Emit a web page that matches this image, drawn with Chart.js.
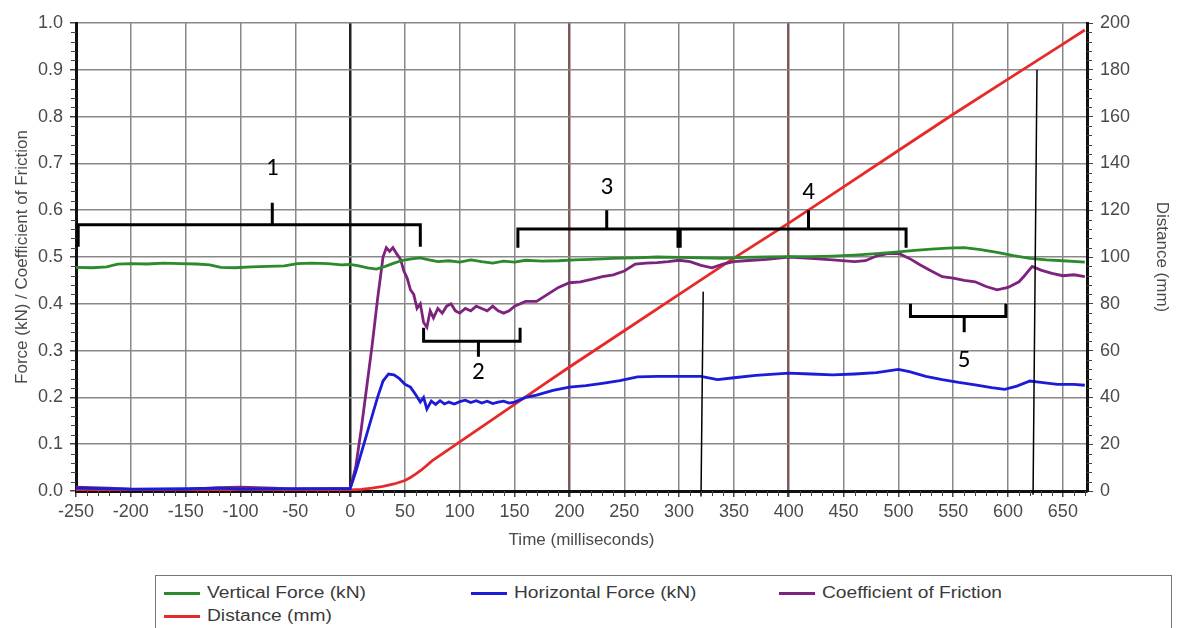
<!DOCTYPE html>
<html>
<head>
<meta charset="utf-8">
<script src="https://cdn.jsdelivr.net/npm/chart.js@4.4.0/dist/chart.umd.min.js"></script>
<style>
    body { margin: 0; background: #fff; width: 1178px; height: 628px; overflow: hidden; position: relative; font-family: "Liberation Sans", Arial, sans-serif; }
    #chart { position: absolute; left: 0; top: 0; }
    .legend { position: absolute; left: 155px; top: 575px; width: 1017px; height: 70px; border: 1px solid #777; box-sizing: border-box; }
    .item { position: absolute; font-size: 16px; color: #3a3a3a; white-space: nowrap; line-height: 18px; }
    .item i { position: absolute; left: 0; top: 8px; width: 36px; height: 3px; }
    .item span { position: absolute; left: 43px; top: 0; transform: scaleX(1.2); transform-origin: 0 0; }
</style>
</head>
<body>
<canvas id="chart" width="1178" height="560"></canvas>
<div class="legend">
    <div class="item" style="left:8px;top:8px"><i style="background:#2b8a2b"></i><span>Vertical Force (kN)</span></div>
    <div class="item" style="left:315px;top:8px"><i style="background:#1c1cd8"></i><span>Horizontal Force (kN)</span></div>
    <div class="item" style="left:623px;top:8px"><i style="background:#7d237d"></i><span>Coefficient of Friction</span></div>
    <div class="item" style="left:8px;top:31px"><i style="background:#e62a2a"></i><span>Distance (mm)</span></div>
</div>
<script>
// Vertical force (kN)
const vfTime = [-250,-235,-222,-212,-200,-185,-170,-155,-140,-128,-118,-105,-90,-75,-60,-48,-35,-20,-8,0,8,16,24,32,40,48,56,64,72,80,90,100,110,120,130,140,150,160,175,190,205,220,240,260,280,300,320,340,360,380,400,420,440,460,480,500,515,530,545,560,575,590,605,620,635,650,670];
const vfValues = [0.478,0.477,0.479,0.485,0.486,0.485,0.487,0.486,0.485,0.483,0.478,0.477,0.479,0.480,0.481,0.486,0.487,0.486,0.483,0.484,0.481,0.477,0.474,0.480,0.487,0.493,0.496,0.498,0.494,0.490,0.492,0.489,0.494,0.490,0.487,0.491,0.489,0.493,0.491,0.492,0.494,0.495,0.497,0.498,0.500,0.499,0.498,0.497,0.499,0.500,0.501,0.501,0.502,0.504,0.507,0.511,0.514,0.517,0.519,0.520,0.516,0.510,0.503,0.497,0.494,0.492,0.489];

// Horizontal force (kN)
const hfTime = [-250,-200,-150,-120,-100,-50,0,5,10,15,20,25,30,35,40,45,50,55,60,64,67,70,74,78,82,86,90,95,100,105,110,115,120,125,130,135,140,145,150,160,170,185,200,215,230,246,262,280,300,320,335,350,370,400,420,440,460,480,500,510,525,540,555,570,585,597,608,620,630,645,660,670];
const hfValues = [0.006,0.004,0.005,0.006,0.004,0.005,0.005,0.04,0.08,0.12,0.16,0.20,0.235,0.250,0.248,0.240,0.228,0.222,0.205,0.190,0.200,0.175,0.192,0.185,0.193,0.186,0.190,0.186,0.191,0.194,0.189,0.193,0.188,0.192,0.187,0.190,0.192,0.188,0.190,0.200,0.205,0.215,0.222,0.225,0.230,0.236,0.244,0.245,0.245,0.245,0.238,0.242,0.247,0.252,0.250,0.248,0.250,0.253,0.260,0.255,0.245,0.238,0.232,0.227,0.221,0.217,0.224,0.235,0.232,0.228,0.228,0.226];

// Coefficient of friction
const cofTime = [-250,-220,-200,-150,-120,-100,-70,-50,-20,0,5,10,15,20,25,30,33,36,39,43,46,49,52,55,58,61,64,67,70,73,76,80,84,88,92,96,100,105,110,115,120,125,130,135,140,145,150,160,170,180,190,200,210,220,230,240,250,260,270,280,290,300,310,320,330,340,350,360,380,400,420,440,460,470,480,490,500,510,520,530,540,550,560,570,580,590,600,610,615,622,630,640,650,660,670];
const cofValues = [0.008,0.006,0.004,0.003,0.007,0.008,0.006,0.004,0.005,0.005,0.05,0.13,0.22,0.31,0.41,0.50,0.52,0.512,0.52,0.505,0.495,0.47,0.455,0.43,0.42,0.39,0.40,0.36,0.35,0.385,0.37,0.39,0.38,0.395,0.40,0.385,0.38,0.39,0.385,0.395,0.39,0.385,0.395,0.385,0.38,0.385,0.395,0.405,0.405,0.42,0.435,0.445,0.447,0.452,0.458,0.462,0.47,0.485,0.487,0.488,0.49,0.493,0.49,0.482,0.477,0.485,0.49,0.492,0.495,0.50,0.497,0.494,0.49,0.492,0.502,0.507,0.508,0.497,0.483,0.47,0.458,0.455,0.45,0.447,0.437,0.43,0.435,0.447,0.46,0.48,0.472,0.465,0.46,0.462,0.458];

// Distance (mm), right axis
const distTime = [-250,-200,-150,-100,-50,0,10,20,30,40,50,55,60,65,75,100,125,150,175,200,250,300,350,400,450,500,550,600,650,670];
const distValues = [0.5,0.3,0.4,0.6,0.4,0.5,0.7,1.2,2,3,4.5,5.8,7.3,9,13,21,29,37,45,53,68.5,84,99.5,114.5,130,145.5,161,176,191,197];

// Bracket annotations (time in ms, heights on the left axis)
const bracketLabels = ['1', '2', '3', '4', '5'];
const bracketStart = [-248, 67, 153, 301, 511];
const bracketEnd = [64, 155, 299, 507, 598];
const bracketMid = [-71, 117, 234, 418, 560];
const bracketLevel = [0.569, 0.32, 0.56, 0.56, 0.373];
const bracketArm = [0.522, 0.349, 0.52, 0.52, 0.40];
const bracketStem = [0.616, 0.287, 0.60, 0.60, 0.339];
const bracketText = [0.688, 0.253, 0.647, 0.637, 0.278];

// Thin pointer lines
const pointerTimeBottom = [320, 622.8];
const pointerTimeTop = [322, 626.4];
const pointerBottom = [-0.012, -0.008];
const pointerTop = [0.426, 0.90];

const zip = (xs, ys) => xs.map((x, i) => ({ x: x, y: ys[i] }));

const axisFont = { family: '"Liberation Sans", Arial, sans-serif', size: 18 };
const titleFont = { family: '"Liberation Sans", Arial, sans-serif', size: 17 };

const minorTicks = {
    id: 'minorTicks',
    afterDraw(chart) {
        const { ctx, scales: { x, y, y1 } } = chart;
        ctx.save();
        ctx.strokeStyle = '#444';
        ctx.lineWidth = 1;
        ctx.beginPath();
        for (let t = -240; t <= 670; t += 10) {
            if (t % 50 === 0) continue;
            const px = Math.round(x.getPixelForValue(t)) + 0.5;
            ctx.moveTo(px, y.bottom);
            ctx.lineTo(px, y.bottom + 5);
        }
        for (let i = 1; i < 50; i++) {
            if (i % 5 === 0) continue;
            const py = Math.round(y.getPixelForValue(i * 0.02)) + 0.5;
            ctx.moveTo(x.left, py);
            ctx.lineTo(x.left - 5, py);
        }
        for (let i = 1; i < 50; i++) {
            if (i % 5 === 0) continue;
            const py = Math.round(y1.getPixelForValue(i * 4)) + 0.5;
            ctx.moveTo(x.right, py);
            ctx.lineTo(x.right + 5, py);
        }
        ctx.stroke();
        ctx.restore();
    }
};

const annotations = {
    id: 'annotations',
    afterDatasetsDraw(chart) {
        const { ctx, scales: { x, y } } = chart;
        ctx.save();
        ctx.strokeStyle = '#000';
        ctx.fillStyle = '#000';
        ctx.lineWidth = 3;
        ctx.lineCap = 'butt';
        bracketLabels.forEach((label, i) => {
            const x0 = x.getPixelForValue(bracketStart[i]);
            const x1 = x.getPixelForValue(bracketEnd[i]);
            const xm = x.getPixelForValue(bracketMid[i]);
            const yl = y.getPixelForValue(bracketLevel[i]);
            ctx.beginPath();
            ctx.moveTo(x0, y.getPixelForValue(bracketArm[i]));
            ctx.lineTo(x0, yl);
            ctx.lineTo(x1, yl);
            ctx.lineTo(x1, y.getPixelForValue(bracketArm[i]));
            ctx.moveTo(xm, yl);
            ctx.lineTo(xm, y.getPixelForValue(bracketStem[i]));
            ctx.stroke();
            ctx.font = '25px Carlito, Lato, sans-serif';
            ctx.textAlign = 'center';
            ctx.textBaseline = 'middle';
            ctx.fillText(label, xm, y.getPixelForValue(bracketText[i]));
        });
        ctx.lineWidth = 1.5;
        ctx.beginPath();
        pointerTop.forEach((v, i) => {
            ctx.moveTo(x.getPixelForValue(pointerTimeBottom[i]), y.getPixelForValue(pointerBottom[i]));
            ctx.lineTo(x.getPixelForValue(pointerTimeTop[i]), y.getPixelForValue(v));
        });
        ctx.stroke();
        ctx.restore();
    }
};

function gridColor(ctx) {
    const v = ctx.tick ? ctx.tick.value : null;
    if (v === 0) return '#222';
    if (v === 200 || v === 400) return '#7d5a5a';
    return '#888';
}
function gridWidth(ctx) {
    const v = ctx.tick ? ctx.tick.value : null;
    if (v === 0) return 2.5;
    if (v === 200 || v === 400) return 2.5;
    return 1.5;
}

new Chart(document.getElementById('chart'), {
    type: 'line',
    data: {
        datasets: [
            { label: 'Vertical Force (kN)', data: zip(vfTime, vfValues), borderColor: '#2b8a2b', yAxisID: 'y' },
            { label: 'Horizontal Force (kN)', data: zip(hfTime, hfValues), borderColor: '#1c1cd8', yAxisID: 'y' },
            { label: 'Coefficient of Friction', data: zip(cofTime, cofValues), borderColor: '#7d237d', yAxisID: 'y' },
            { label: 'Distance (mm)', data: zip(distTime, distValues), borderColor: '#e62a2a', yAxisID: 'y1' }
        ]
    },
    options: {
        responsive: false,
        animation: false,
        devicePixelRatio: 1,
        layout: { padding: { top: 23, left: 0, right: 0, bottom: 0 } },
        elements: {
            point: { radius: 0 },
            line: { borderWidth: 2.8, tension: 0 }
        },
        plugins: {
            legend: { display: false },
            tooltip: { enabled: false }
        },
        scales: {
            x: {
                type: 'linear',
                min: -250,
                max: 672,
                afterFit: s => { s.height = 69; },
                ticks: { stepSize: 50, includeBounds: false, font: axisFont, color: '#4a4a4a', padding: 4, maxRotation: 0 },
                grid: { color: gridColor, lineWidth: gridWidth, tickColor: '#444', tickLength: 6 },
                border: { color: '#111', width: 3 },
                title: { display: true, text: 'Time (milliseconds)', font: titleFont, color: '#4a4a4a', padding: { top: 0, bottom: 9 } }
            },
            y: {
                position: 'left',
                min: 0,
                max: 1,
                afterFit: s => { s.width = 76; },
                ticks: { stepSize: 0.1, font: axisFont, color: '#4a4a4a', padding: 7, callback: v => v.toFixed(1) },
                grid: { color: '#888', lineWidth: 1.5, tickColor: '#444', tickLength: 6 },
                border: { color: '#111', width: 3 },
                title: { display: true, text: 'Force (kN) / Coefficient of Friction', font: titleFont, color: '#4a4a4a', padding: { top: 12, bottom: 0 } }
            },
            y1: {
                position: 'right',
                min: 0,
                max: 200,
                afterFit: s => { s.width = 91; },
                ticks: { stepSize: 20, font: axisFont, color: '#4a4a4a', padding: 7 },
                grid: { drawOnChartArea: false, tickColor: '#444', tickLength: 6 },
                border: { color: '#111', width: 3 },
                title: { display: true, text: 'Distance (mm)', font: titleFont, color: '#4a4a4a', padding: { top: 6, bottom: 0 } }
            }
        }
    },
    plugins: [minorTicks, annotations]
});
</script>
</body>
</html>
